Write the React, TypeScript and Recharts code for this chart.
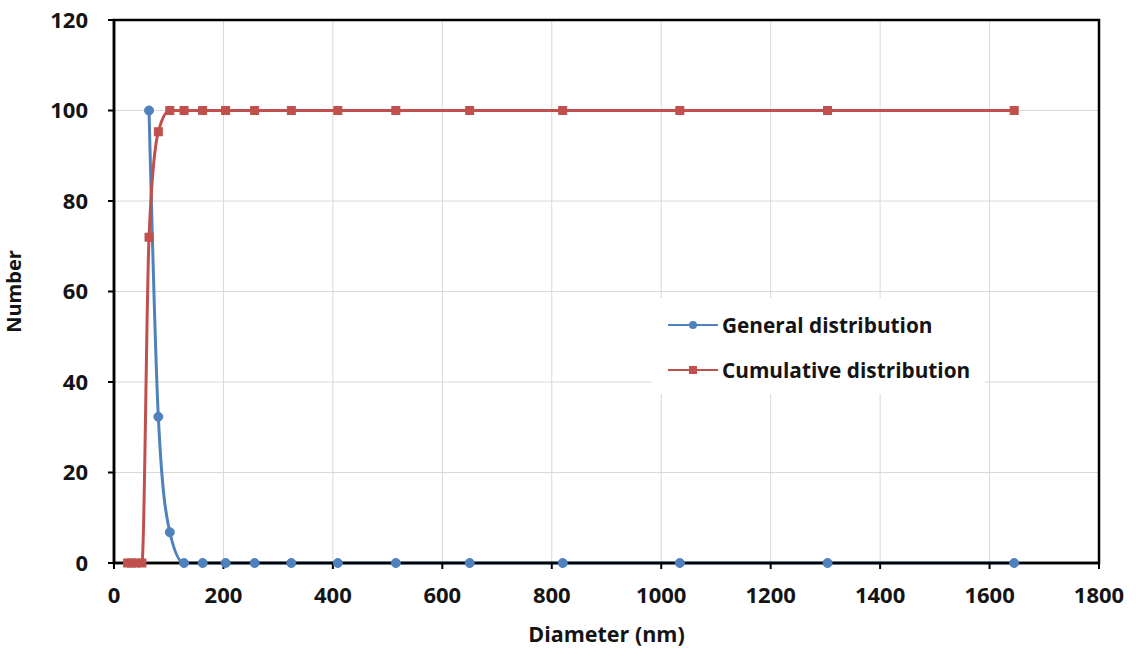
import React from "react";
import {
  LineChart,
  Line,
  XAxis,
  YAxis,
  CartesianGrid,
  ReferenceArea,
} from "recharts";

const generalDiameters = [64, 81, 102, 128, 162, 204, 257, 324, 409, 515, 650, 820, 1034, 1304, 1645];
const generalNumbers = [100, 32.3, 6.8, 0, 0, 0, 0, 0, 0, 0, 0, 0, 0, 0, 0];

const cumulativeDiameters = [25, 32, 40, 51, 64, 81, 102, 128, 162, 204, 257, 324, 409, 515, 650, 820, 1034, 1304, 1645];
const cumulativeNumbers = [0, 0, 0, 0, 72, 95.3, 100, 100, 100, 100, 100, 100, 100, 100, 100, 100, 100, 100, 100];

const xTicks = [0, 200, 400, 600, 800, 1000, 1200, 1400, 1600, 1800];
const yTicks = [0, 20, 40, 60, 80, 100, 120];

const seriesNames = ["General distribution", "Cumulative distribution"];

const BLUE = "#4F81BD";
const RED = "#C0504D";
const FONT = "'Open Sans', sans-serif";
const TEXT = "#141414";

const generalData = generalDiameters.map((x, i) => ({ x, y: generalNumbers[i] }));
const cumulativeData = cumulativeDiameters.map((x, i) => ({ x, y: cumulativeNumbers[i] }));

const SquareDot = (props: any) => {
  const { cx, cy } = props;
  if (cx == null || cy == null) return null;
  return <rect x={cx - 4} y={cy - 4} width={8} height={8} fill={RED} stroke={RED} />;
};

const CircleDot = (props: any) => {
  const { cx, cy } = props;
  if (cx == null || cy == null) return null;
  return <circle cx={cx} cy={cy} r={4.5} fill={BLUE} stroke={BLUE} />;
};

const LegendBox = () => (
  <div
    style={{
      position: "absolute",
      left: 652,
      top: 298,
      width: 333,
      height: 96,
      boxSizing: "border-box",
      background: "#fff",
      paddingTop: 4,
      paddingLeft: 16,
      fontFamily: FONT,
      fontWeight: 700,
      fontSize: 20.8,
      color: TEXT,
    }}
  >
    {[0, 1].map((i) => (
      <div key={i} style={{ display: "flex", alignItems: "center", height: 45, whiteSpace: "nowrap" }}>
        <svg width={50} height={12} style={{ marginRight: 4, flex: "none" }}>
          <line x1={0} y1={6} x2={50} y2={6} stroke={i === 0 ? BLUE : RED} strokeWidth={2} />
          {i === 0 ? (
            <circle cx={25} cy={6} r={4} fill={BLUE} />
          ) : (
            <rect x={21} y={2} width={8} height={8} fill={RED} />
          )}
        </svg>
        <span>{seriesNames[i]}</span>
      </div>
    ))}
  </div>
);

export default function App() {
  return (
    <div style={{ position: "absolute", left: 0, top: 0, width: 1136, height: 648, background: "#fff" }}>
      <LineChart width={1136} height={648} margin={{ top: 20, right: 37, left: 0, bottom: 0 }}>
        <CartesianGrid stroke="#d9d9d9" strokeWidth={1} vertical horizontal />
        <XAxis
          type="number"
          dataKey="x"
          domain={[0, 1800]}
          ticks={xTicks}
          allowDataOverflow
          height={85}
          tickSize={6}
          tickMargin={18}
          axisLine={{ stroke: "#000", strokeWidth: 2.5 }}
          tickLine={{ stroke: "#000", strokeWidth: 2 }}
          tick={{ fill: TEXT, fontFamily: FONT, fontWeight: 700, fontSize: 22 }}
          label={{
            value: "Diameter (nm)",
            position: "insideBottom",
            offset: 6,
            fill: TEXT,
            fontFamily: FONT,
            fontWeight: 700,
            fontSize: 21.5,
          }}
        />
        <YAxis
          type="number"
          domain={[0, 120]}
          ticks={yTicks}
          width={114}
          tickSize={6}
          tickMargin={20}
          axisLine={{ stroke: "#000", strokeWidth: 2.5 }}
          tickLine={{ stroke: "#000", strokeWidth: 2 }}
          tick={{ fill: TEXT, fontFamily: FONT, fontWeight: 700, fontSize: 22 }}
          label={{
            value: "Number",
            angle: -90,
            position: "insideLeft",
            offset: 14,
            fill: TEXT,
            fontFamily: FONT,
            fontWeight: 700,
            fontSize: 20,
            style: { textAnchor: "middle" },
          }}
        />
        <ReferenceArea x1={0} x2={1800} y1={0} y2={120} fill="none" stroke="#000" strokeWidth={2.5} ifOverflow="visible" />
        <Line
          data={generalData}
          dataKey="y"
          name={seriesNames[0]}
          type="monotone"
          stroke={BLUE}
          strokeWidth={3}
          dot={<CircleDot />}
          activeDot={false}
          isAnimationActive={false}
        />
        <Line
          data={cumulativeData}
          dataKey="y"
          name={seriesNames[1]}
          type="monotone"
          stroke={RED}
          strokeWidth={3}
          dot={<SquareDot />}
          activeDot={false}
          isAnimationActive={false}
        />
      </LineChart>
      <LegendBox />
    </div>
  );
}
